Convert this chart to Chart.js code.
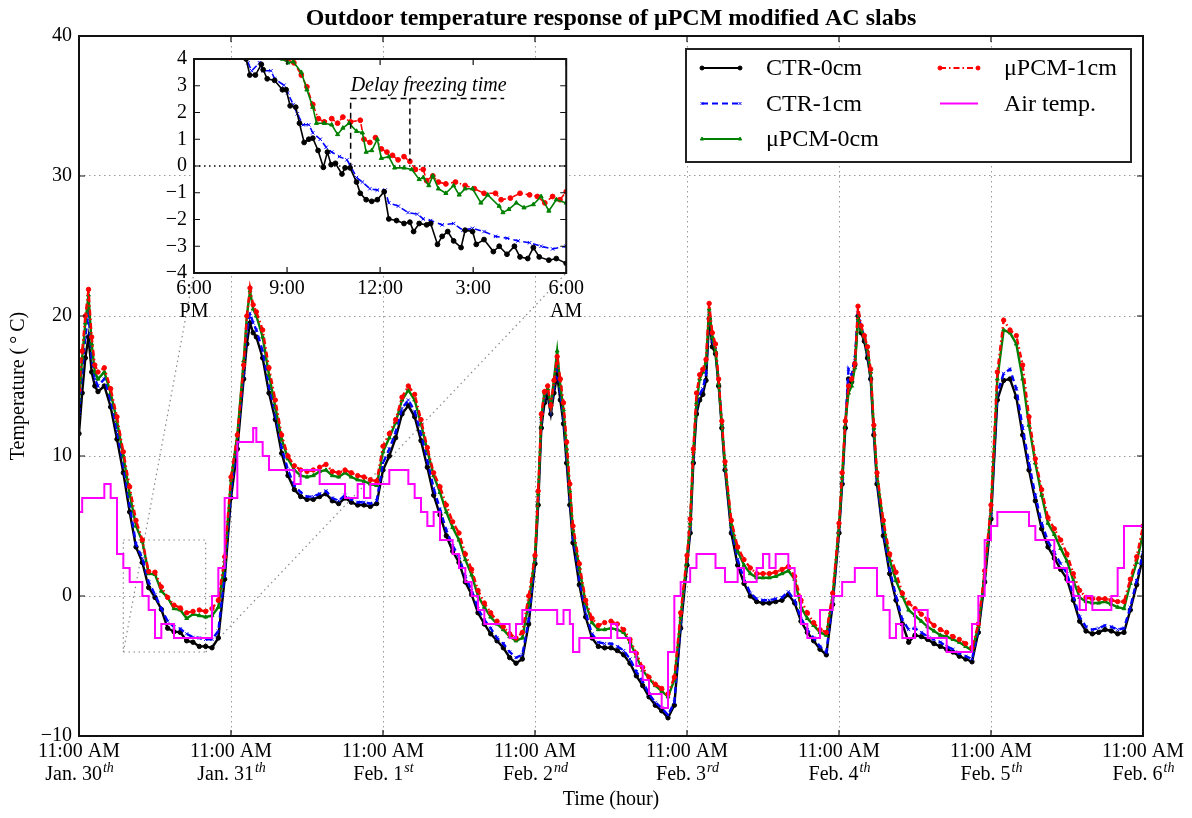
<!DOCTYPE html>
<html>
<head>
<meta charset="utf-8">
<script src="https://cdn.jsdelivr.net/npm/chart.js@4.4.1/dist/chart.umd.min.js"></script>
<style>
  html, body { margin: 0; background: #fff; }
  #wrap { position: relative; width: 1192px; height: 818px; }
  #main { position: absolute; left: 0; top: 0; }
  #inset { position: absolute; left: 140px; top: 40px; }
</style>
</head>
<body>
<div id="wrap">
  <canvas id="main" width="1192" height="818"></canvas>
  <canvas id="inset" width="448" height="300"></canvas>
</div>
<script>
const FONT = '"Liberation Serif", "Times New Roman", serif';

// hours after 11:00 AM Jan. 30 (denser around the daily peaks)
const hours = [
  0, 0.5, 1, 1.5, 2, 2.5, 3,
  4, 5, 6, 7, 8, 9, 10, 11, 12, 13, 14, 15, 16, 17, 18, 19, 20, 21, 22, 23, 24, 25, 26,
  26.5, 27, 27.5, 28,
  29, 30, 31, 32, 33, 34, 35, 36, 37, 38, 39, 40, 41, 42, 43, 44, 45, 46, 47, 48, 49, 50,
  51, 52, 53, 54, 55, 56, 57, 58, 59, 60, 61, 62, 63, 64, 65, 66, 67, 68, 69, 70, 71, 72,
  72.5, 73, 73.5, 74, 74.5, 75, 75.5, 76, 76.5, 77, 77.5, 78,
  79, 80, 81, 82, 83, 84, 85, 86, 87, 88, 89, 90, 91, 92, 93, 94, 95, 96,
  96.5, 97, 97.5, 98, 98.5, 99, 99.5, 100, 100.5, 101, 101.5, 102,
  103, 104, 105, 106, 107, 108, 109, 110, 111, 112, 113, 114, 115, 116, 117, 118, 119, 120,
  120.5, 121, 121.5, 122, 122.5, 123, 123.5, 124, 124.5, 125, 125.5, 126,
  127, 128, 129, 130, 131, 132, 133, 134, 135, 136, 137, 138, 139, 140, 141, 142, 143, 144,
  145, 146, 147, 148, 149, 150, 151, 152, 153, 154, 155, 156, 157, 158, 159, 160, 161, 162,
  163, 164, 165, 166, 167, 168
];

const ctr0 = [
  11.6, 14.5, 17.0, 18.5, 16.0, 15.0, 14.6,
  15.0, 13.5, 11.2, 8.8, 6.0, 3.5, 2.4, 0.6, -0.1, -0.95, -2.3, -2.55, -2.6, -3.2, -3.3, -3.6, -3.6, -3.7, -3.0, 1.2, 7.0, 10.5, 15.5,
  18.0, 19.5, 18.8, 18.5,
  17.0, 14.5, 12.6, 10.2, 8.6, 7.6, 7.1, 6.9, 6.9, 7.1, 7.3, 6.8, 6.6, 7.0, 6.7, 6.5, 6.5, 6.4, 6.6, 9.0, 10.0, 11.3,
  13.0, 13.6, 12.8, 11.1, 9.2, 7.2, 5.8, 4.3, 3.2, 2.4, 1.0, 0.1, -1.2, -2.0, -2.7, -3.2, -3.7, -4.4, -4.8, -4.5, -2.0, 2.3,
  6.5, 12.0, 13.8, 14.3, 13.0, 14.5, 15.8, 14.0, 12.3, 9.5, 6.5, 3.8,
  0.8, -1.5, -3.0, -3.6, -3.7, -3.7, -3.9, -4.2, -4.8, -5.7, -6.4, -7.2, -7.8, -8.2, -8.7, -7.8, -2.3, 2.2,
  4.5, 9.5, 13.0, 14.0, 14.4, 15.4, 19.8, 17.8, 17.3, 15.0, 12.0, 9.0,
  4.5, 2.2, 0.9, 0.0, -0.4, -0.5, -0.5, -0.4, -0.3, 0.1, -0.5, -1.8, -2.6, -3.2, -3.8, -4.2, -0.6, 4.5,
  8.0, 12.0, 15.5, 15.3, 16.5, 20.0, 18.8, 18.2, 17.0, 15.5, 11.5, 8.0,
  4.3, 1.6, -0.3, -2.0, -3.3, -2.8, -2.9, -3.1, -3.4, -3.6, -3.8, -4.0, -4.3, -4.5, -4.7, -2.6, 1.0, 5.5,
  14.0, 15.4, 15.5, 14.2, 11.5, 9.0, 6.8, 4.8, 3.5, 2.7, 1.9, 1.2, -0.3, -1.8, -2.5, -2.7, -2.6, -2.4,
  -2.5, -2.7, -2.6, -1.0, 0.8, 2.8
];

const ctr1 = [
  13.0, 16.0, 18.5, 20.2, 17.0, 15.5, 15.0,
  15.5, 14.0, 11.8, 9.3, 6.5, 3.7, 2.7, 1.0, 0.1, -0.9, -1.8, -2.2, -2.35, -2.7, -2.95, -3.0, -3.1, -3.1, -2.5, 1.6, 7.5, 11.0, 16.0,
  19.0, 20.2, 19.5, 19.0,
  17.5, 15.0, 13.0, 10.6, 9.0, 7.9, 7.4, 7.1, 7.1, 7.3, 7.5, 7.0, 6.8, 7.2, 6.9, 6.7, 6.7, 6.6, 6.8, 9.5, 10.5, 11.7,
  13.4, 14.0, 13.2, 11.6, 9.7, 7.7, 6.2, 4.7, 3.6, 2.8, 1.4, 0.4, -0.9, -1.7, -2.3, -3.0, -3.4, -4.0, -4.4, -4.2, -1.7, 2.6,
  7.0, 12.5, 14.2, 14.6, 13.3, 15.0, 16.2, 14.5, 12.8, 10.0, 7.0, 4.2,
  1.2, -1.2, -2.7, -3.3, -3.4, -3.4, -3.6, -3.9, -4.5, -5.4, -6.1, -7.0, -7.6, -8.0, -8.5, -7.6, -2.0, 2.5,
  4.8, 10.0, 13.5, 14.4, 14.8, 15.8, 20.2, 18.2, 17.6, 15.3, 12.3, 9.3,
  4.8, 2.6, 1.2, 0.2, -0.2, -0.3, -0.3, -0.2, -0.1, 0.3, -0.3, -1.6, -2.4, -3.0, -3.6, -4.0, -0.4, 4.8,
  8.2, 12.3, 16.2, 15.8, 17.0, 20.2, 19.2, 18.5, 17.3, 15.8, 11.8, 8.3,
  4.6, 1.9, 0.0, -1.7, -2.4, -2.3, -2.6, -2.9, -3.1, -3.3, -3.6, -3.8, -4.1, -4.3, -4.5, -2.4, 1.3, 5.8,
  14.5, 15.9, 16.2, 14.8, 12.0, 9.5, 7.2, 5.2, 3.9, 3.1, 2.3, 1.6, 0.0, -1.5, -2.2, -2.4, -2.3, -2.1,
  -2.2, -2.4, -2.3, -0.8, 1.1, 3.1
];

const pcm0 = [
  14.0, 17.0, 19.5, 21.5, 18.0, 16.0, 15.5,
  16.0, 14.5, 12.5, 10.0, 7.3, 5.0, 3.9, 1.6, 1.55, 0.35, -0.1, -0.9, -1.0, -1.6, -1.3, -1.4, -1.5, -1.4, -0.8, 2.5, 8.3, 11.5, 16.8,
  20.0, 21.8, 20.5, 20.0,
  18.5, 15.8, 13.5, 11.2, 9.8, 9.0, 8.6, 8.5, 8.6, 8.9, 9.0, 8.6, 8.5, 8.8, 8.5, 8.3, 8.2, 8.0, 7.9, 10.3, 11.3, 12.4,
  14.0, 14.7, 14.0, 12.3, 10.4, 8.6, 7.4, 6.0, 4.9, 4.0, 2.6, 1.5, 0.0, -0.8, -1.5, -2.0, -2.4, -2.9, -3.2, -3.0, -0.5, 2.8,
  7.3, 12.8, 14.5, 14.8, 13.5, 15.5, 17.5, 15.0, 13.3, 10.5, 7.5, 4.7,
  2.0, -0.5, -1.9, -2.4, -2.4, -2.3, -2.4, -2.6, -3.3, -4.3, -5.3, -5.9, -6.4, -6.8, -7.2, -6.0, -1.5, 2.7,
  5.2, 10.3, 13.8, 15.5, 16.0, 16.7, 20.5, 18.5, 17.5, 15.2, 12.3, 9.4,
  5.1, 3.2, 2.2, 1.6, 1.3, 1.3, 1.3, 1.4, 1.6, 1.8, 1.2, -0.8, -1.6, -2.1, -2.6, -2.8, 0.0, 5.0,
  8.5, 12.5, 14.5, 15.0, 16.3, 19.8, 19.0, 18.5, 17.5, 16.0, 12.0, 8.6,
  5.2, 2.6, 1.1, 0.0, -1.0, -1.4, -1.8, -2.2, -2.5, -2.8, -2.9, -3.1, -3.3, -3.6, -3.9, -2.2, 1.6, 6.2,
  15.5, 19.0, 18.8, 18.0, 15.5, 12.2, 9.5, 7.2, 5.2, 4.4, 3.4, 2.5, 1.1, -0.1, -0.4, -0.5, -0.5, -0.4,
  -0.6, -0.8, -0.9, 0.9, 2.4, 4.5
];

const pcm1 = [
  14.7, 17.5, 20.0, 21.9, 18.5, 16.5, 16.0,
  16.3, 14.8, 12.8, 10.3, 7.8, 5.4, 4.0, 1.75, 1.7, 0.65, -0.1, -0.65, -0.85, -1.2, -1.1, -1.0, -1.1, -0.9, -0.3, 2.8, 8.5, 11.5, 16.5,
  20.0, 22.0, 20.8, 20.3,
  19.0, 16.3, 14.0, 11.5, 10.0, 9.3, 9.0, 8.9, 9.0, 9.2, 9.4, 8.9, 8.8, 9.0, 8.8, 8.6, 8.5, 8.3, 8.2, 10.7, 11.6, 12.6,
  14.2, 15.0, 14.4, 12.6, 10.6, 8.8, 7.8, 6.5, 5.3, 4.5, 3.0, 1.9, 0.4, -0.5, -1.2, -1.8, -2.2, -2.7, -3.0, -2.6, 0.0, 2.9,
  7.5, 13.0, 14.6, 15.0, 13.6, 15.4, 17.1, 15.5, 13.8, 11.0, 8.0, 5.0,
  2.3, -0.3, -1.6, -2.1, -1.9, -1.8, -2.0, -2.4, -3.1, -4.1, -5.1, -5.8, -6.3, -6.6, -7.0, -5.8, -1.2, 2.9,
  5.5, 10.5, 14.5, 15.8, 16.2, 16.9, 20.9, 18.8, 18.0, 15.5, 12.5, 9.6,
  5.4, 3.5, 2.6, 2.0, 1.6, 1.6, 1.6, 1.7, 1.9, 2.1, 1.4, -0.3, -1.2, -1.9, -2.4, -2.6, 0.2, 5.2,
  8.8, 12.5, 15.0, 15.5, 16.6, 20.7, 19.3, 18.6, 17.8, 16.2, 12.2, 8.8,
  5.4, 3.0, 1.7, 0.2, -0.5, -0.9, -1.3, -1.7, -2.1, -2.4, -2.6, -2.9, -3.1, -3.4, -3.7, -2.0, 1.8, 6.5,
  16.0, 19.7, 19.0, 18.6, 16.5, 12.8, 9.8, 7.6, 5.6, 4.8, 4.0, 3.0, 1.6, 0.4, -0.1, -0.2, -0.2, -0.2,
  -0.3, -0.4, -0.4, 1.2, 2.8, 5.0
];

// air temperature, value held until the next time step
const airTemp = [
  6, 6, 7, 7, 7, 7, 7,
  7, 8, 7, 3, 2, 1, 1, 0, -1, -3, -2, -2, -3, -3, -3, -3, -3, -3, 0, 2, 7, 7, 11,
  11, 11, 11, 12,
  11, 10, 9, 9, 9, 9, 8, 9, 9, 9, 8, 8, 8, 8, 7, 7, 8, 7, 8, 8, 8, 9,
  9, 9, 8, 7, 6, 5, 6, 4, 4, 3, 2, 1, 0, -1, -2, -2, -2, -2, -3, -2, -1, -1,
  -1, -1, -1, -1, -1, -1, -1, -2, -2, -1, -1, -2,
  -4, -3, -3, -3, -3, -3, -2, -3, -3, -4, -5, -6, -7, -7, -8, -4, 0, 1,
  1, 2, 2, 3, 3, 3, 3, 3, 3, 2, 2, 2,
  1, 1, 2, 1, 1, 2, 3, 2, 3, 3, 2, 0, -2, -3, -3, -1, -1, 0,
  0, 1, 1, 1, 1, 2, 2, 2, 2, 2, 2, 2,
  0, -1, -3, -2, -3, -3, -1, -1, -3, -3, -3, -4, -4, -4, -4, -2, 0, 4,
  5, 6, 6, 6, 6, 6, 5, 4, 4, 4, 2, 2, 1, 0, -1, 0, -1, -1,
  -1, 0, 2, 5, 5, 5
];

const timeLabel = '11:00 AM';
const dayLabels = [['Jan. 30', 'th'], ['Jan. 31', 'th'], ['Feb. 1', 'st'], ['Feb. 2', 'nd'],
  ['Feb. 3', 'rd'], ['Feb. 4', 'th'], ['Feb. 5', 'th'], ['Feb. 6', 'th']];

// inset, hours after 6:00 PM Jan. 30
const insetTicks = [['6:00', 'PM'], '9:00', '12:00', '3:00', ['6:00', 'AM']];
const insetCtr0 = [[1.5,4.6],[1.68,4.0],[1.8,3.4],[1.98,3.4],[2.17,3.8],[2.23,3.6],[2.36,3.26],[2.6,3.2],
  [2.85,2.85],[2.97,2.85],[3.1,2.25],[3.28,2.2],[3.4,1.6],[3.55,0.88],[3.7,1.0],[3.83,1.04],[4.0,0.58],
  [4.17,-0.05],[4.3,0.52],[4.42,0.05],[4.56,0.1],[4.77,-0.3],[4.87,-0.07],[5.03,-0.07],[5.24,-0.6],
  [5.36,-1.02],[5.55,-1.26],[5.73,-1.32],[5.91,-1.26],[6.13,-0.96],[6.28,-1.98],[6.53,-2.04],[6.77,-2.15],
  [6.96,-2.1],[7.08,-2.45],[7.26,-2.15],[7.5,-2.2],[7.63,-2.15],[7.85,-2.93],[8.0,-2.63],[8.18,-2.45],
  [8.37,-2.8],[8.61,-3.05],[8.74,-2.4],[8.98,-2.45],[9.1,-2.93],[9.35,-2.75],[9.65,-3.2],[9.84,-3.0],
  [10.09,-3.3],[10.33,-3.0],[10.51,-3.4],[10.76,-3.46],[10.94,-3.05],[11.13,-3.4],[11.44,-3.52],
  [11.68,-3.46],[12.0,-3.64]];
const insetCtr1 = [[1.6,4.2],[1.74,3.86],[1.86,3.56],[2.11,3.86],[2.23,3.56],[2.48,3.56],[2.6,3.26],
  [2.9,3.02],[3.02,2.73],[3.2,2.3],[3.33,1.95],[3.52,1.54],[3.7,1.54],[3.83,1.24],[4.07,1.0],[4.26,0.7],
  [4.44,0.52],[4.69,0.35],[4.93,0.23],[5.05,0.0],[5.24,-0.43],[5.43,-0.6],[5.67,-0.85],[5.91,-0.9],
  [6.16,-0.9],[6.28,-1.38],[6.59,-1.5],[6.9,-1.74],[7.2,-1.8],[7.39,-1.98],[7.63,-2.04],[8.0,-2.2],
  [8.37,-2.15],[8.67,-2.4],[8.98,-2.33],[9.35,-2.45],[9.72,-2.63],[10.1,-2.7],[10.45,-2.8],[10.82,-2.87],
  [11.19,-3.0],[11.56,-3.1],[12.0,-3.0]];
const insetPcm0 = [[2.7,4.3],[2.85,4.0],[3.03,3.86],[3.2,3.9],[3.46,3.5],[3.64,2.85],[3.83,2.2],[3.95,1.6],
  [4.2,1.6],[4.44,1.54],[4.63,1.18],[4.8,1.42],[5.0,1.6],[5.24,1.3],[5.43,1.24],[5.55,0.52],[5.73,0.58],
  [5.91,1.0],[6.04,0.29],[6.28,0.35],[6.47,-0.07],[6.77,-0.07],[7.02,-0.13],[7.26,-0.5],[7.39,-0.43],
  [7.57,-0.73],[7.7,-0.37],[7.88,-0.85],[8.12,-1.02],[8.37,-0.73],[8.55,-1.08],[8.74,-0.85],[8.98,-0.85],
  [9.25,-1.38],[9.47,-1.08],[9.84,-1.5],[9.96,-1.74],[10.15,-1.62],[10.39,-1.38],[10.64,-1.56],
  [10.94,-1.44],[11.19,-1.14],[11.44,-1.68],[11.68,-1.26],[12.0,-1.38]];
const insetPcm1 = [[2.8,4.4],[2.97,4.0],[3.22,3.86],[3.46,3.4],[3.64,2.96],[3.83,2.3],[4.01,1.77],[4.2,1.65],
  [4.44,1.77],[4.63,1.6],[4.8,1.83],[5.05,1.65],[5.36,1.71],[5.48,1.0],[5.67,0.88],[5.85,1.06],[6.04,0.64],
  [6.22,0.52],[6.4,0.4],[6.58,0.23],[6.77,0.35],[6.96,0.17],[7.14,-0.13],[7.39,-0.13],[7.5,-0.55],
  [7.7,-0.37],[7.88,-0.6],[8.12,-0.67],[8.43,-0.6],[8.74,-0.73],[9.04,-0.85],[9.35,-1.02],[9.72,-1.02],
  [9.9,-1.26],[10.2,-1.2],[10.51,-1.02],[10.82,-1.08],[11.07,-1.14],[11.31,-1.38],[11.56,-1.14],
  [11.8,-1.26],[12.0,-0.96]];

const zoomBox = { x0: 7, x1: 20, y0: -4, y1: 4 };
const delayBox = { x0: 5.05, x1: 6.96, end: 10.0, top: 2.52, bottom0: -0.1, bottom1: 0.2, textY: 3.0 };
const INSET_POS = { left: 140, top: 40 };

[ctr0, ctr1, pcm0, pcm1, airTemp].forEach((s, i) => {
  if (s.length !== hours.length) throw new Error('series ' + i + ': ' + s.length + ' values, ' + hours.length + ' hours');
});

Chart.defaults.font.family = FONT;
Chart.defaults.color = '#000';

const minus = (v) => (v < 0 ? '\u2212' + Math.abs(v) : String(v));

function series(label, values, color, dash, point, order) {
  return {
    label, order,
    data: hours.map((h, i) => ({ x: h, y: values[i] })),
    borderColor: color, backgroundColor: color,
    pointBackgroundColor: color, pointBorderColor: color,
    borderWidth: 2.4, borderDash: dash,
    pointStyle: point, pointRadius: 2.2, pointBorderWidth: 1,
  };
}

function insetSeries(label, pairs, color, dash, point) {
  return {
    label,
    data: pairs.map(([t, v]) => ({ x: t, y: v })),
    borderColor: color, backgroundColor: color,
    pointBackgroundColor: color, pointBorderColor: color,
    borderWidth: 1.6, borderDash: dash,
    pointStyle: point, pointRadius: 2.4, pointBorderWidth: 1,
  };
}

// inward tick marks on all four sides plus the axes frame
function drawFrame(chart, len) {
  const { ctx, chartArea: a, scales: { x, y } } = chart;
  ctx.save();
  ctx.strokeStyle = '#111';
  ctx.lineWidth = 1.2;
  ctx.beginPath();
  x.ticks.forEach((t) => {
    const px = x.getPixelForValue(t.value);
    ctx.moveTo(px, a.top); ctx.lineTo(px, a.top + len);
    ctx.moveTo(px, a.bottom); ctx.lineTo(px, a.bottom - len);
  });
  y.ticks.forEach((t) => {
    const py = y.getPixelForValue(t.value);
    ctx.moveTo(a.left, py); ctx.lineTo(a.left + len, py);
    ctx.moveTo(a.right, py); ctx.lineTo(a.right - len, py);
  });
  ctx.stroke();
  ctx.lineWidth = 2;
  ctx.strokeRect(a.left, a.top, a.right - a.left, a.bottom - a.top);
  ctx.restore();
}

function marker(ctx, ds, x, y, r) {
  ctx.fillStyle = ds.borderColor;
  ctx.strokeStyle = ds.borderColor;
  ctx.lineWidth = 1;
  if (Chart.helpers && Chart.helpers.drawPoint) {
    Chart.helpers.drawPoint(ctx, { pointStyle: ds.pointStyle, radius: r, borderWidth: 1, rotation: 0 }, x, y);
  } else {
    ctx.beginPath(); ctx.arc(x, y, r, 0, Math.PI * 2); ctx.fill();
  }
}

const insetDeco = {
  id: 'insetDeco',
  beforeDraw(chart) {
    const { ctx, chartArea: a } = chart;
    ctx.save();
    ctx.fillStyle = '#fff';
    ctx.fillRect(a.left, a.top, a.right - a.left, a.bottom - a.top);
    ctx.restore();
  },
  beforeDatasetsDraw(chart) {
    const { ctx, chartArea: a, scales: { y } } = chart;
    const py = y.getPixelForValue(0);
    ctx.save();
    ctx.strokeStyle = '#000';
    ctx.lineWidth = 1.5;
    ctx.setLineDash([1.5, 3.5]);
    ctx.beginPath(); ctx.moveTo(a.left, py); ctx.lineTo(a.right, py); ctx.stroke();
    ctx.restore();
  },
  afterDatasetsDraw(chart) {
    const { ctx, scales: { x, y } } = chart;
    const d = delayBox;
    ctx.save();
    ctx.strokeStyle = '#000';
    ctx.lineWidth = 1.5;
    ctx.setLineDash([6, 4]);
    ctx.beginPath();
    ctx.moveTo(x.getPixelForValue(d.x0), y.getPixelForValue(d.bottom0));
    ctx.lineTo(x.getPixelForValue(d.x0), y.getPixelForValue(d.top));
    ctx.lineTo(x.getPixelForValue(d.end), y.getPixelForValue(d.top));
    ctx.moveTo(x.getPixelForValue(d.x1), y.getPixelForValue(d.top));
    ctx.lineTo(x.getPixelForValue(d.x1), y.getPixelForValue(d.bottom1));
    ctx.stroke();
    ctx.setLineDash([]);
    ctx.font = 'italic 20px ' + FONT;
    ctx.textAlign = 'left';
    ctx.textBaseline = 'middle';
    ctx.fillStyle = '#000';
    ctx.fillText('Delay freezing time', x.getPixelForValue(d.x0), y.getPixelForValue(d.textY));
    ctx.restore();
  },
  afterDraw(chart) { drawFrame(chart, 6); }
};

const insetChart = new Chart(document.getElementById('inset'), {
  type: 'line',
  data: {
    datasets: [
      insetSeries('CTR-0cm', insetCtr0, '#000000', [], 'circle'),
      insetSeries('CTR-1cm', insetCtr1, '#0000ff', [6, 4], 'crossRot'),
      insetSeries('\u03bcPCM-0cm', insetPcm0, '#008000', [], 'triangle'),
      insetSeries('\u03bcPCM-1cm', insetPcm1, '#ff0000', [6, 3, 1.5, 3], 'circle'),
    ]
  },
  options: {
    responsive: false,
    animation: false,
    devicePixelRatio: 1,
    layout: { padding: { top: 9, right: 20, left: 0, bottom: 0 } },
    plugins: { legend: { display: false }, tooltip: { enabled: false } },
    scales: {
      x: {
        type: 'linear', min: 0, max: 12,
        afterFit: (s) => { s.height = 67; },
        grid: { display: false, drawTicks: false },
        border: { display: false },
        ticks: {
          stepSize: 3, autoSkip: false, maxRotation: 0, padding: 4,
          font: { size: 20, lineHeight: 1.15 },
          callback: (v, i) => insetTicks[i]
        }
      },
      y: {
        min: -4, max: 4,
        afterFit: (s) => { s.width = 54; },
        grid: { display: false, drawTicks: false },
        border: { display: false },
        ticks: { stepSize: 1, autoSkip: false, padding: 7, font: { size: 20 }, callback: minus }
      }
    }
  },
  plugins: [insetDeco]
});

const mainDeco = {
  id: 'mainDeco',
  beforeDatasetsDraw(chart) {
    const { ctx, scales: { x, y } } = chart;
    const ia = insetChart.chartArea;
    const b = zoomBox;
    const x0 = x.getPixelForValue(b.x0), x1 = x.getPixelForValue(b.x1);
    const y0 = y.getPixelForValue(b.y0), y1 = y.getPixelForValue(b.y1);
    ctx.save();
    ctx.strokeStyle = '#888';
    ctx.lineWidth = 1.2;
    ctx.setLineDash([1.5, 3.5]);
    ctx.strokeRect(x0, y1, x1 - x0, y0 - y1);
    ctx.beginPath();
    ctx.moveTo(x0, y0); ctx.lineTo(INSET_POS.left + ia.left, INSET_POS.top + ia.bottom);
    ctx.moveTo(x1, y0); ctx.lineTo(INSET_POS.left + ia.right, INSET_POS.top + ia.bottom);
    ctx.stroke();
    ctx.restore();
  },
  afterDatasetsDraw(chart) { drawFrame(chart, 6); },
  afterDraw(chart) {
    const { ctx, chartArea: a, scales: { x } } = chart;
    ctx.save();
    ctx.fillStyle = '#000';
    ctx.textBaseline = 'middle';

    // x tick labels with superscript ordinals
    dayLabels.forEach(([day, sup], i) => {
      const px = x.getPixelForValue(i * 24);
      ctx.font = '20px ' + FONT;
      ctx.textAlign = 'center';
      ctx.fillText(timeLabel, px, a.bottom + 16);
      const w1 = ctx.measureText(day).width;
      ctx.font = 'italic 14px ' + FONT;
      const w2 = ctx.measureText(sup).width;
      const start = px - (w1 + w2) / 2;
      ctx.textAlign = 'left';
      ctx.font = '20px ' + FONT;
      ctx.fillText(day, start, a.bottom + 39);
      ctx.font = 'italic 14px ' + FONT;
      ctx.fillText(sup, start + w1 + 1, a.bottom + 32);
    });

    ctx.textAlign = 'center';
    ctx.font = '20px ' + FONT;
    ctx.fillText('Time (hour)', (a.left + a.right) / 2, 800);
    ctx.font = 'bold 24px ' + FONT;
    ctx.fillText('Outdoor temperature response of \u03bcPCM modified AC slabs', (a.left + a.right) / 2, 19);

    ctx.save();
    ctx.translate(19, (a.top + a.bottom) / 2);
    ctx.rotate(-Math.PI / 2);
    ctx.font = '20px ' + FONT;
    ctx.fillText('Temperature (\u2009\u00b0\u2009C)', 0, 0);
    ctx.restore();

    // legend, two columns
    const bx = a.right - 457, by = a.top + 13, bw = 445, bh = 113;
    ctx.fillStyle = '#fff';
    ctx.fillRect(bx, by, bw, bh);
    ctx.strokeStyle = '#222';
    ctx.lineWidth = 2;
    ctx.strokeRect(bx, by, bw, bh);
    chart.data.datasets.forEach((ds, i) => {
      const col = i < 3 ? 0 : 1;
      const row = i < 3 ? i : i - 3;
      const ly = by + 19 + row * 35.5;
      const lx = bx + 16 + col * 238;
      ctx.save();
      ctx.strokeStyle = ds.borderColor;
      ctx.lineWidth = 2;
      ctx.setLineDash(ds.borderDash || []);
      ctx.beginPath(); ctx.moveTo(lx, ly); ctx.lineTo(lx + 38, ly); ctx.stroke();
      ctx.setLineDash([]);
      if (ds.pointRadius > 0) {
        marker(ctx, ds, lx, ly, 2);
        marker(ctx, ds, lx + 38, ly, 2);
      }
      ctx.restore();
      ctx.fillStyle = '#000';
      ctx.textAlign = 'left';
      ctx.font = '24px ' + FONT;
      ctx.fillText(ds.label, lx + 64, ly + 1);
    });
    ctx.restore();
  }
};

new Chart(document.getElementById('main'), {
  type: 'line',
  data: {
    datasets: [
      series('CTR-0cm', ctr0, '#000000', [], 'circle', 4),
      series('CTR-1cm', ctr1, '#0000ff', [6, 4], 'crossRot', 3),
      series('\u03bcPCM-0cm', pcm0, '#008000', [], 'triangle', 2),
      series('\u03bcPCM-1cm', pcm1, '#ff0000', [6, 3, 1.5, 3], 'circle', 1),
      {
        label: 'Air temp.', order: 0,
        data: hours.map((h, i) => ({ x: h, y: airTemp[i] })),
        borderColor: '#ff00ff', backgroundColor: '#ff00ff',
        borderWidth: 2, stepped: 'after', pointRadius: 0
      }
    ]
  },
  options: {
    responsive: false,
    animation: false,
    devicePixelRatio: 1,
    layout: { padding: { top: 36, right: 49, left: 0, bottom: 0 } },
    plugins: { legend: { display: false }, tooltip: { enabled: false } },
    scales: {
      x: {
        type: 'linear', min: 0, max: 168,
        afterFit: (s) => { s.height = 82; },
        grid: { color: '#999', lineWidth: 1, drawTicks: false },
        border: { display: false, dash: [1.5, 3.5] },
        ticks: { stepSize: 24, display: false }
      },
      y: {
        min: -10, max: 40,
        afterFit: (s) => { s.width = 79; },
        grid: { color: '#999', lineWidth: 1, drawTicks: false },
        border: { display: false, dash: [1.5, 3.5] },
        ticks: { stepSize: 10, autoSkip: false, padding: 7, font: { size: 20 }, callback: minus }
      }
    }
  },
  plugins: [mainDeco]
});
</script>
</body>
</html>
